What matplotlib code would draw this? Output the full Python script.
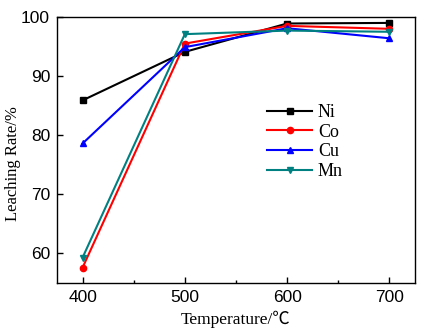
from matplotlib import pyplot as plt
from matplotlib.ticker import MultipleLocator

temps = [400, 500, 600, 700]
ni = [85.9, 94.1, 98.9, 99.0]
co = [57.6, 95.5, 98.5, 98.0]
cu = [78.6, 94.9, 98.1, 96.4]
mn = [59.3, 97.1, 97.7, 97.5]

fig = plt.figure(figsize=(4.29, 3.35), dpi=100)
ax = fig.add_axes([57/429, 1 - 283/335, (415-57)/429, (283-17)/335])

ax.plot(temps, ni, color='black', marker='s', ms=4.5, lw=1.5, label='Ni')
ax.plot(temps, co, color='red', marker='o', ms=4.5, lw=1.5, label='Co')
ax.plot(temps, cu, color='blue', marker='^', ms=5, lw=1.5, label='Cu')
ax.plot(temps, mn, color='#008080', marker='v', ms=5, lw=1.5, label='Mn')

ax.set_xlim(375, 725)
ax.set_ylim(55, 100)
ax.set_xticks(temps)
ax.xaxis.set_minor_locator(MultipleLocator(50))
ax.set_yticks([60, 70, 80, 90, 100])
ax.tick_params(direction='in', length=4, width=1, labelsize=12.5, pad=5)
ax.tick_params(which='minor', direction='in', length=2.5, width=1)
for lab in ax.get_xticklabels() + ax.get_yticklabels():
    lab.set_family('Liberation Sans')
for sp in ax.spines.values():
    sp.set_linewidth(1)

ax.set_xlabel('Temperature/℃', family=['Liberation Serif', 'Noto Sans CJK SC'], fontsize=12.5, labelpad=4)
ax.set_ylabel('Leaching Rate/%', family='Liberation Serif', fontsize=12)
ax.yaxis.set_label_coords(-0.1, 0.45)

ax.legend(loc='center left', bbox_to_anchor=(0.542, 0.53), frameon=False,
          prop={'family': 'Liberation Serif', 'size': 13}, handlelength=2.5,
          handletextpad=0.3, labelspacing=0.15)

plt.savefig('out.png', dpi=100)
